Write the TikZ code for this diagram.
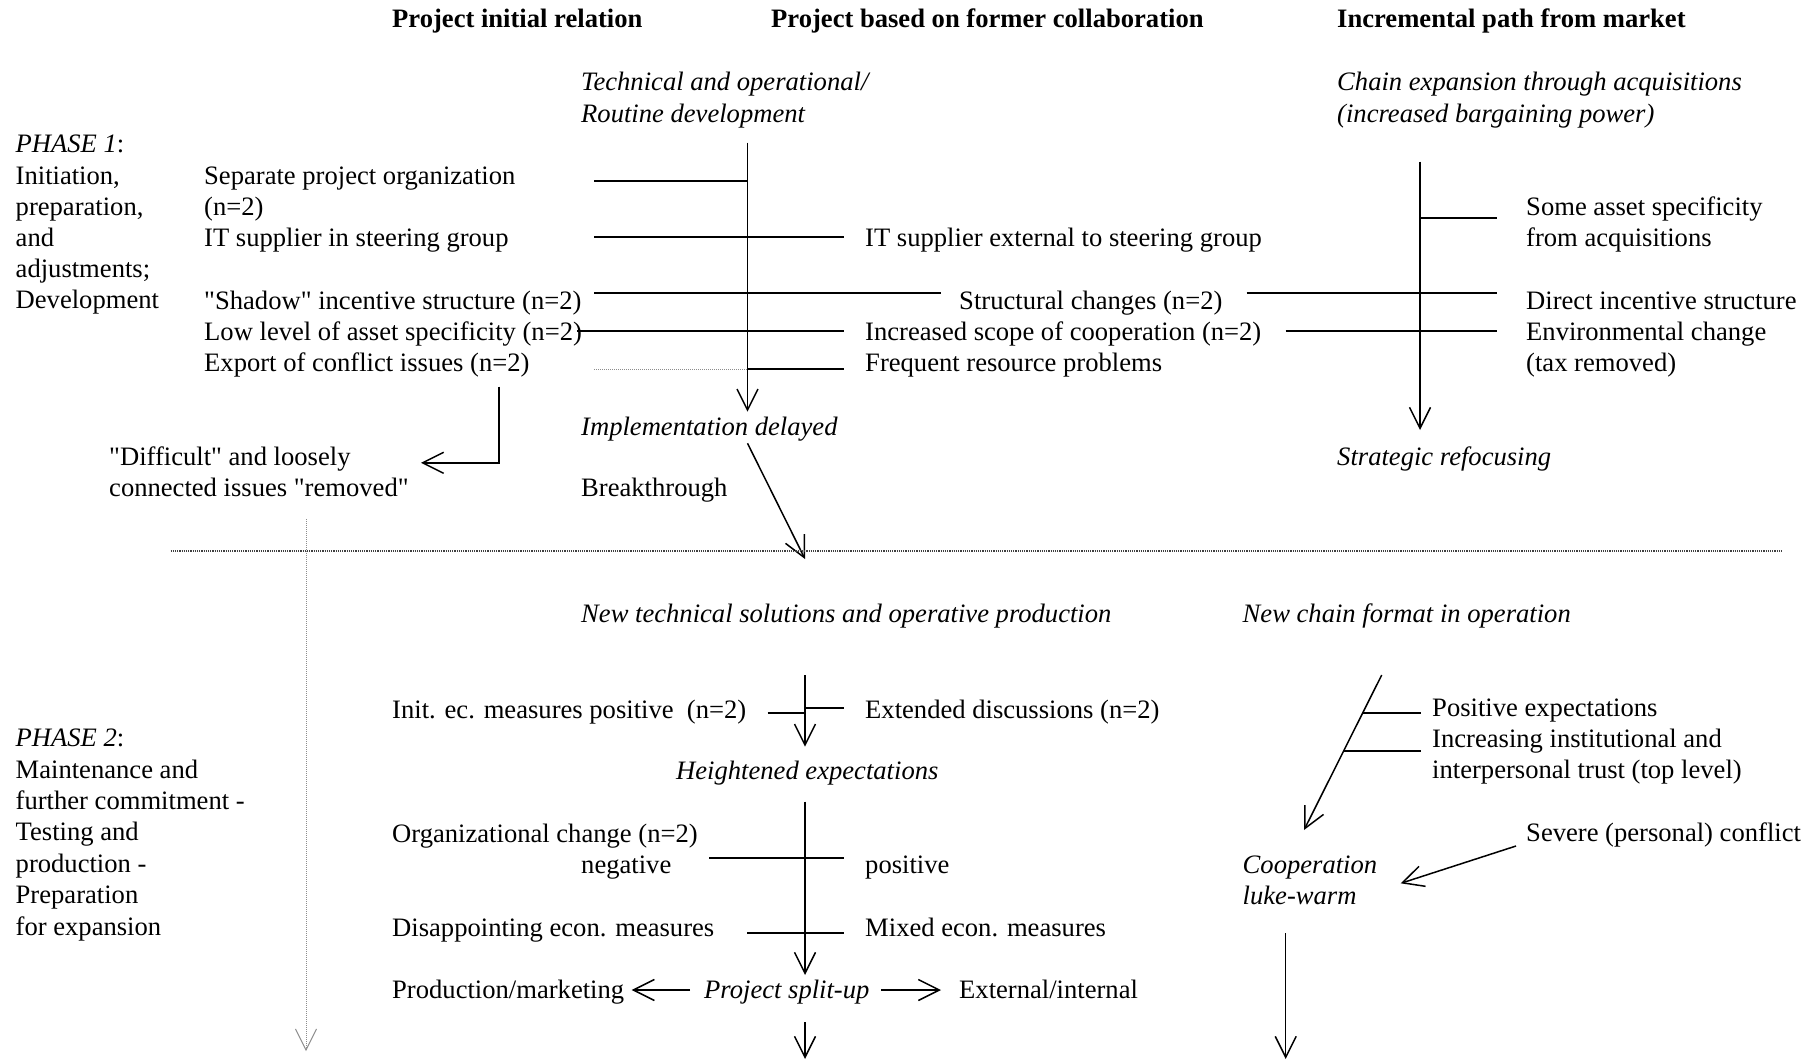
\documentclass[tikz,border=0pt]{standalone}
\usepackage{fontspec}
\setmainfont{Liberation Serif}[Ligatures=TeXOff]
\usetikzlibrary{arrows.meta}
\begin{document}
\begin{tikzpicture}[x=1pt,y=-1pt,
  txt/.style={inner sep=0pt,anchor=base west,font=\fontsize{26.6}{31.2}\selectfont},
  itl/.style={txt,font=\fontsize{26.6}{31.2}\selectfont\itshape},
  hdr/.style={txt,font=\fontsize{26.6}{31.2}\selectfont\bfseries},
  tick/.style={line width=2pt},
  arr/.style={line width=1.5pt,-{Straight Barb[length=21pt,width=21pt]}},
  sepline/.style={black!75,line width=1.2pt,dash pattern=on 1.2pt off 1pt},
  faint/.style={black!45,line width=1pt,dash pattern=on 1pt off 1pt},
  faintarr/.style={black!45,line width=1pt,dash pattern=on 1pt off 1pt,-{Straight Barb[length=21pt,width=21pt]}},
]
\useasboundingbox (0,0) rectangle (1809,1061);

% ---------- column headers ----------
\node[hdr] (h1) at (392,27) {Project initial relation};
\node[hdr] (h2) at (771,27) {Project based on former collaboration};
\node[hdr] (h3) at (1337,27) {Incremental path from market};

% ---------- phase 1 texts ----------
\node[itl] (tech1) at (581,90.9) {Technical and operational/};
\node[itl] (tech2) at (581,122.1) {Routine development};
\node[itl] (chain1) at (1337,90.9) {Chain expansion through acquisitions};
\node[itl] (chain2) at (1337,122.1) {(increased bargaining power)};

\node[txt] (ph1a) at (15.5,152.5) {\textit{PHASE 1}:};
\node[txt] (ph1b) at (15.5,184) {Initiation,};
\node[txt] (ph1c) at (15.5,215) {preparation,};
\node[txt] (ph1d) at (15.5,246.5) {and};
\node[txt] (ph1e) at (15.5,277.5) {adjustments;};
\node[txt] (ph1f) at (15.5,308.8) {Development};

\node[txt] (sep1) at (204,184.5) {Separate project organization};
\node[txt] (sep2) at (204,215.5) {(n=2)};
\node[txt] (itin) at (204,246.7) {IT supplier in steering group};
\node[txt] (shadow) at (204,309) {"Shadow" incentive structure (n=2)};
\node[txt] (lowasset) at (204,340.3) {Low level of asset specificity (n=2)};
\node[txt] (export) at (204,371.2) {Export of conflict issues (n=2)};

\node[txt] (itext) at (865,246.7) {IT supplier external to steering group};
\node[txt] (structural) at (959,309) {Structural changes (n=2)};
\node[txt] (scope) at (865,340.3) {Increased scope of cooperation (n=2)};
\node[txt] (resource) at (865,371.2) {Frequent resource problems};

\node[txt] (some1) at (1526,215.5) {Some asset specificity};
\node[txt] (some2) at (1526,246.7) {from acquisitions};
\node[txt] (direct) at (1526,309) {Direct incentive structure};
\node[txt] (env1) at (1526,340.3) {Environmental change};
\node[txt] (env2) at (1526,371.2) {(tax removed)};

\node[itl] (impl) at (581,435) {Implementation delayed};
\node[txt] (diff1) at (109,465.2) {"Difficult" and loosely};
\node[txt] (diff2) at (109,496) {connected issues "removed"};
\node[txt] (breakthrough) at (581,496) {Breakthrough};
\node[itl] (refocus) at (1337,465.2) {Strategic refocusing};

% ---------- phase 1 connectors ----------
\coordinate (m1top) at (747.5,142.7);
\coordinate (m1end) at (747.5,411.7);
\coordinate (m1a) at (594,181);     \coordinate (m1a') at (747.5,181);
\coordinate (m1b) at (594,237.3);   \coordinate (m1b') at (844,237.3);
\coordinate (m1c) at (594,293.3);   \coordinate (m1c') at (940.6,293.3);
\coordinate (m1d) at (577,331);     \coordinate (m1d') at (844,331);
\coordinate (m1e) at (594,369);     \coordinate (m1e') at (747.5,369);
\coordinate (m1f) at (844,369);

\draw[arr] (m1top) -- (m1end);
\draw[tick] (m1a) -- (m1a');
\draw[tick] (m1b) -- (m1b');
\draw[tick] (m1c) -- (m1c');
\draw[tick] (m1d) -- (m1d');
\draw[faint] (m1e) -- (m1e');
\draw[tick] (m1e') -- (m1f);

\coordinate (r1top) at (1420,161.7);
\coordinate (r1end) at (1420,430);
\coordinate (r1a) at (1420,218.3);  \coordinate (r1a') at (1497,218.3);
\coordinate (r1b) at (1246.7,293.3); \coordinate (r1b') at (1497,293.3);
\coordinate (r1c) at (1285.5,331);  \coordinate (r1c') at (1497,331);
\draw[arr] (r1top) -- (r1end);
\draw[tick] (r1a) -- (r1a');
\draw[tick] (r1b) -- (r1b');
\draw[tick] (r1c) -- (r1c');

\coordinate (exA) at (499,386.7);
\coordinate (exB) at (499,462.8);
\coordinate (exC) at (421,462.8);
\draw[arr] (exA) -- (exB) -- (exC);

\coordinate (brA) at (747.5,443.3);
\coordinate (brB) at (805,559);
\draw[arr] (brA) -- (brB);

% ---------- phase separator ----------
\coordinate (sepL) at (170.5,551);
\coordinate (sepR) at (1783,551);
\draw[sepline] (sepL) -- (sepR);
\coordinate (vgA) at (306,519.3);
\coordinate (vgB) at (306,1051);
\draw[faintarr] (vgA) -- (vgB);

% ---------- phase 2 texts ----------
\node[itl] (newtech) at (581,622) {New technical solutions and operative production};
\node[itl] (newchain) at (1242.5,622) {New chain format in operation};

\node[txt] (initec) at (392,718.3) {Init. ec. measures positive \ (n=2)};
\node[txt] (extdisc) at (865,718.3) {Extended discussions (n=2)};
\node[txt] (posexp) at (1432,716.7) {Positive expectations};
\node[txt] (trust1) at (1432,747.5) {Increasing institutional and};
\node[txt] (trust2) at (1432,778.5) {interpersonal trust (top level)};

\node[txt] (ph2a) at (15.5,746.7) {\textit{PHASE 2}:};
\node[txt] (ph2b) at (15.5,778.1) {Maintenance and};
\node[txt] (ph2c) at (15.5,809.5) {further commitment -};
\node[txt] (ph2d) at (15.5,840.9) {Testing and};
\node[txt] (ph2e) at (15.5,872.3) {production -};
\node[txt] (ph2f) at (15.5,903.7) {Preparation};
\node[txt] (ph2g) at (15.5,935.1) {for expansion};

\node[itl] (heightened) at (676,779.5) {Heightened expectations};
\node[txt] (orgchange) at (392,842) {Organizational change (n=2)};
\node[txt] (negative) at (581,873) {negative};
\node[txt] (positive) at (865,873) {positive};
\node[txt] (disappoint) at (392,936.5) {Disappointing econ. measures};
\node[txt] (mixed) at (865,936.5) {Mixed econ. measures};
\node[txt] (prodmkt) at (392,998.5) {Production/marketing};
\node[itl] (splitup) at (704,998.5) {Project split-up};
\node[txt] (extint) at (959,998.5) {External/internal};

\node[txt] (severe) at (1526,841) {Severe (personal) conflict};
\node[itl] (coop1) at (1242.5,873.3) {Cooperation};
\node[itl] (coop2) at (1242.5,904.3) {luke-warm};

% ---------- phase 2 connectors ----------
\coordinate (m2top) at (805,675);
\coordinate (m2end) at (805,746.7);
\coordinate (m2a) at (767.5,713.3); \coordinate (m2a') at (805,713.3);
\coordinate (m2b) at (805,707.7);   \coordinate (m2b') at (844,707.7);
\draw[arr] (m2top) -- (m2end);
\draw[tick] (m2a) -- (m2a');
\draw[tick] (m2b) -- (m2b');

\coordinate (m3top) at (805,801.7);
\coordinate (m3end) at (805,975);
\coordinate (m3a) at (709,857.7);   \coordinate (m3a') at (844.3,857.7);
\coordinate (m3b) at (747.3,933.3); \coordinate (m3b') at (844.3,933.3);
\draw[arr] (m3top) -- (m3end);
\draw[tick] (m3a) -- (m3a');
\draw[tick] (m3b) -- (m3b');

\coordinate (spL) at (690,990);     \coordinate (spL') at (631.7,990);
\coordinate (spR) at (881,990);     \coordinate (spR') at (941,990);
\coordinate (spD) at (805,1022);    \coordinate (spD') at (805,1059);
\draw[arr] (spL) -- (spL');
\draw[arr] (spR) -- (spR');
\draw[arr] (spD) -- (spD');

\coordinate (r2top) at (1381.7,675);
\coordinate (r2end) at (1304,830);
\coordinate (r2a) at (1363.3,713.3); \coordinate (r2a') at (1420.7,713.3);
\coordinate (r2b) at (1343.3,751);   \coordinate (r2b') at (1420.7,751);
\draw[arr] (r2top) -- (r2end);
\draw[tick] (r2a) -- (r2a');
\draw[tick] (r2b) -- (r2b');

\coordinate (svA) at (1516,846);
\coordinate (svB) at (1400.7,883.3);
\draw[arr] (svA) -- (svB);

\coordinate (cwA) at (1285.7,933.3);
\coordinate (cwB) at (1285.7,1059);
\draw[arr] (cwA) -- (cwB);
\end{tikzpicture}
\end{document}
